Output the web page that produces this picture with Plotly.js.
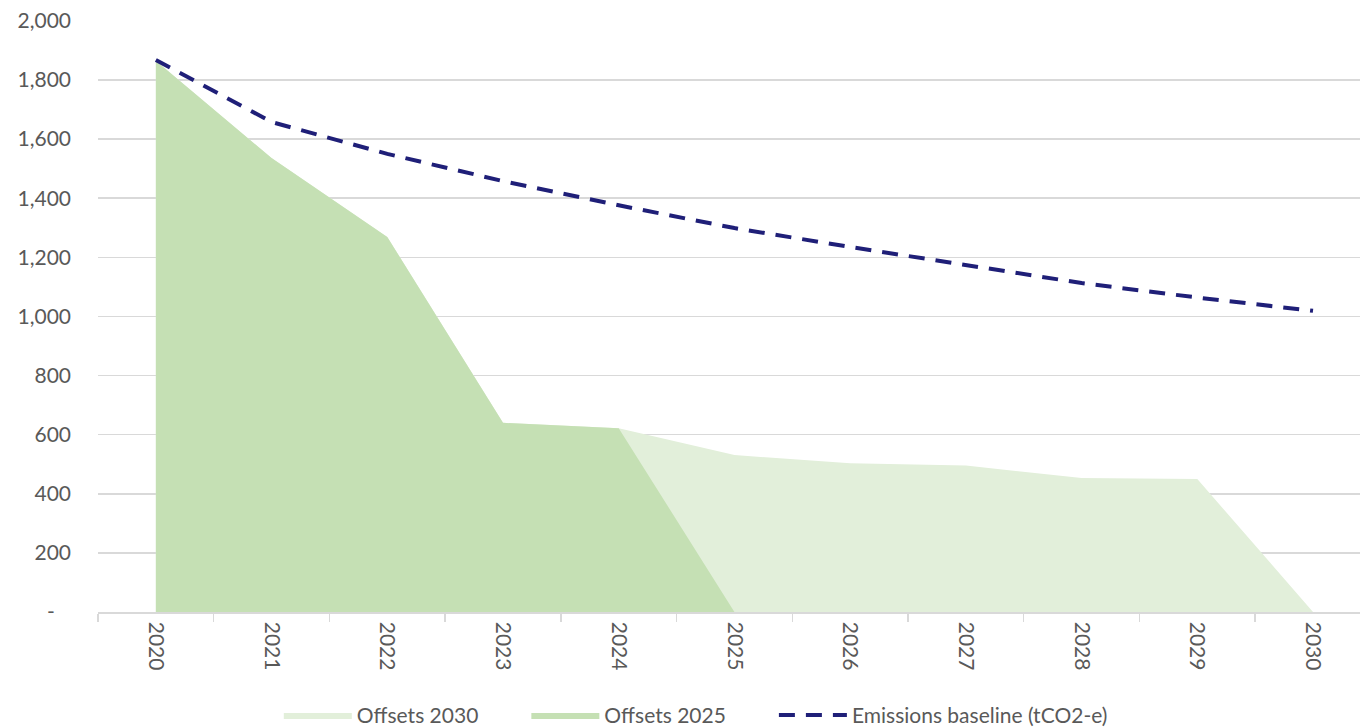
<!DOCTYPE html>
<html>
<head>
<meta charset="utf-8">
<script src="https://cdn.plot.ly/plotly-3.0.1.min.js"></script>
<style>html,body{margin:0;padding:0;background:#fff;}#chart{width:1360px;height:727px;}</style>
</head>
<body>
<div id="chart"></div>
<script>
const years = ['2020','2021','2022','2023','2024','2025','2026','2027','2028','2029','2030'];
const offsets2030 = [1865, 1536, 1269, 640, 622, 531, 503, 496, 453, 450, 0];
const offsets2025 = [1865, 1536, 1269, 640, 622, 0];
const years2025 = ['2020','2021','2022','2023','2024','2025'];
const baseline = [1868, 1658, 1550, 1458, 1376, 1299, 1235, 1174, 1113, 1064, 1019];
const yTickVals = [0, 200, 400, 600, 800, 1000, 1200, 1400, 1600, 1800, 2000];
const yTickText = ['-\u00a0\u00a0\u00a0', '200', '400', '600', '800', '1,000', '1,200', '1,400', '1,600', '1,800', '2,000'];
const seriesNames = ['Offsets 2030', 'Offsets 2025', 'Emissions baseline (tCO2-e)'];

const font = {family: 'Lato, "Open Sans", sans-serif', size: 21, color: '#595959'};
const pad = '\u00a0'.repeat(8);

const traces = [
  {x: years, y: offsets2030, name: seriesNames[0] + pad, type: 'scatter', mode: 'lines',
   fill: 'tozeroy', fillcolor: '#E2EFDA', line: {width: 0, color: '#E2EFDA'}},
  {x: years2025, y: offsets2025, name: seriesNames[1] + pad, type: 'scatter', mode: 'lines',
   fill: 'tozeroy', fillcolor: '#C5E0B4', line: {width: 0, color: '#C5E0B4'}},
  {x: years, y: baseline, name: seriesNames[2], type: 'scatter', mode: 'lines',
   line: {color: '#1F1F78', width: 4, dash: '16px,11px'}}
];

const layout = {
  width: 1360, height: 727,
  margin: {l: 98, r: 0, t: 20, b: 115},
  paper_bgcolor: '#ffffff', plot_bgcolor: '#ffffff',
  font: font,
  showlegend: true,
  legend: {orientation: 'h', xref: 'container', yref: 'container', x: 0.205, xanchor: 'left',
           y: 0.016, yanchor: 'middle', font: font, itemwidth: 68, traceorder: 'normal'},
  xaxis: {type: 'category', range: [-0.5, 10.406], tickangle: 90, ticks: 'outside', tickson: 'boundaries',
          ticklen: 8, tickcolor: '#d9d9d9', tickwidth: 1.5, showline: true, linecolor: '#d9d9d9', linewidth: 1.5,
          showgrid: false, zeroline: false, tickfont: font, ticklabelstandoff: 4, fixedrange: true},
  yaxis: {range: [0, 2003], tickvals: yTickVals, ticktext: yTickText, showgrid: true, gridcolor: '#d9d9d9',
          gridwidth: 1.5, zeroline: false, showline: false, ticks: '', tickfont: font, ticklabelstandoff: 26,
          fixedrange: true}
};

Plotly.newPlot('chart', traces, layout, {displayModeBar: false, staticPlot: true});
</script>
</body>
</html>
